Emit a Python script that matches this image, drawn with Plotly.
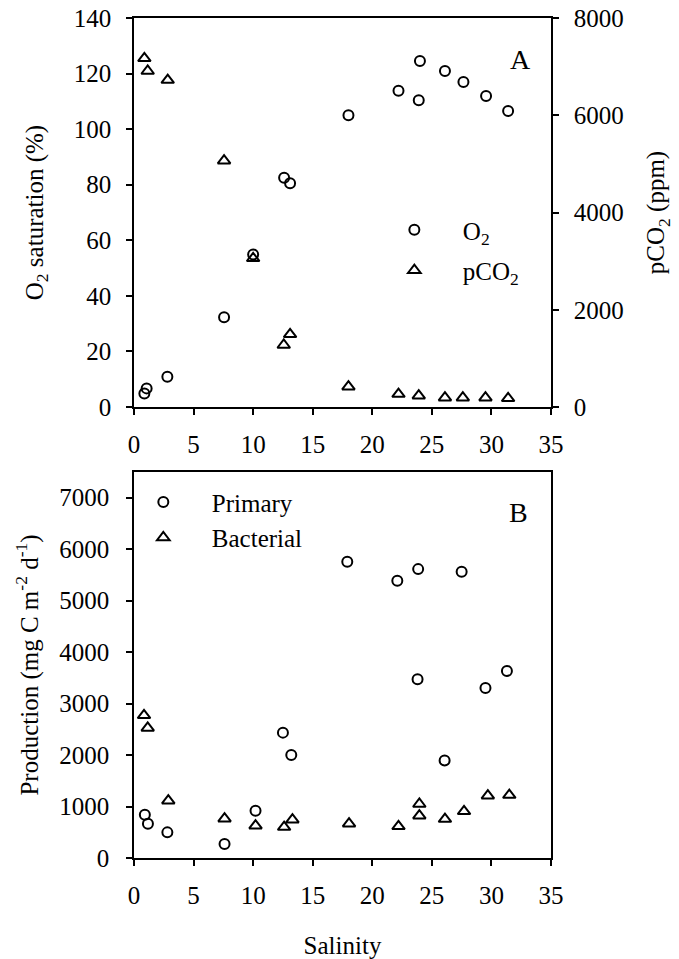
import plotly.graph_objects as go

# Panel A data
o2_sal = [0.87, 1.06, 2.8, 7.56, 10.0, 12.6, 13.1, 18.0, 22.2, 24.0, 23.9, 26.1, 27.65, 29.55, 31.4]
o2_sat = [4.9, 6.7, 10.9, 32.3, 54.9, 82.5, 80.5, 105.0, 113.8, 124.5, 110.4, 120.9, 117.0, 111.9, 106.5]

co2_sal = [0.87, 1.15, 2.83, 7.56, 10.0, 12.57, 13.1, 18.0, 22.2, 23.9, 26.1, 27.6, 29.5, 31.4]
co2_ppm = [7170, 6910, 6724, 5065, 3057, 1275, 1495, 418, 267, 233, 191, 191, 191, 179]

# Panel B data
prim_sal = [0.91, 1.17, 2.8, 7.6, 10.2, 12.5, 13.2, 17.9, 22.1, 23.85, 23.8, 26.07, 27.5, 29.5, 31.3]
prim_val = [841, 667, 498, 272, 919, 2436, 2000, 5755, 5386, 5613, 3473, 1896, 5560, 3305, 3635]

bact_sal = [0.84, 1.15, 2.88, 7.6, 10.2, 12.6, 13.3, 18.05, 22.2, 23.95, 23.95, 26.1, 27.7, 29.7, 31.5]
bact_val = [2773, 2527, 1113, 764, 628, 602, 744, 667, 615, 1049, 822, 757, 906, 1210, 1223]

FONT = "Times New Roman"
FS = 25

W, H = 679, 959
ml, mr, mt, mb = 134, 128, 18, 101

fig = go.Figure()

circ = dict(symbol="circle-open", size=10, color="black", line=dict(width=2, color="black"))
tri = dict(symbol="triangle-up-open", size=11, color="black", line=dict(width=2, color="black"))

fig.add_trace(go.Scatter(x=o2_sal, y=o2_sat, mode="markers", marker=circ,
                         name="O<sub>2</sub>", xaxis="x", yaxis="y",
                         legend="legend", legendgroup="a1"))
fig.add_trace(go.Scatter(x=co2_sal, y=co2_ppm, mode="markers", marker=tri,
                         name="pCO<sub>2</sub>", xaxis="x", yaxis="y2",
                         legend="legend", legendgroup="a2"))
fig.add_trace(go.Scatter(x=prim_sal, y=prim_val, mode="markers", marker=circ,
                         name="Primary", xaxis="x2", yaxis="y3",
                         legend="legend2", legendgroup="b1"))
fig.add_trace(go.Scatter(x=bact_sal, y=bact_val, mode="markers", marker=tri,
                         name="Bacterial", xaxis="x2", yaxis="y3",
                         legend="legend2", legendgroup="b2"))

ph = H - mt - mb
top_dom = [(858 - 407) / ph, 1.0]
bot_dom = [0.0, (858 - 472) / ph]

tickf = dict(family=FONT, size=FS, color="black")
axcommon = dict(showline=True, linecolor="black", linewidth=1.5, ticks="outside",
                ticklen=6, tickwidth=1.5, tickcolor="black", showgrid=False,
                zeroline=False, tickfont=tickf)

fig.update_layout(
    template="none",
    width=W, height=H,
    margin=dict(l=ml, r=mr, t=mt, b=mb, autoexpand=False),
    paper_bgcolor="white", plot_bgcolor="white",
    font=dict(family=FONT, size=FS, color="black"),
    showlegend=True,
    xaxis=dict(**axcommon, domain=[0, 1], range=[0, 35], dtick=5, anchor="y",
               mirror=True, ticklabelstandoff=8),
    yaxis=dict(**axcommon, domain=top_dom, range=[0, 140], dtick=20, anchor="x",
               ticklabelstandoff=10,
               title=dict(text="O<sub>2</sub> saturation (%)", standoff=23,
                          font=dict(family=FONT, size=FS, color="black"))),
    yaxis2=dict(**axcommon, overlaying="y", side="right", range=[0, 8000], dtick=2000,
                anchor="x", ticklabelstandoff=10,
                title=dict(text="pCO<sub>2</sub> (ppm)", standoff=24,
                           font=dict(family=FONT, size=FS, color="black"))),
    xaxis2=dict(**axcommon, domain=[0, 1], range=[0, 35], dtick=5, anchor="y3",
                mirror=True, ticklabelstandoff=8,
                title=dict(text="Salinity", standoff=29,
                           font=dict(family=FONT, size=FS, color="black"))),
    yaxis3=dict(**axcommon, domain=bot_dom, range=[0, 7500], dtick=1000, anchor="x2",
                mirror=True, ticklabelstandoff=12,
                title=dict(text="Production (mg C m<sup>-2</sup> d<sup>-1</sup>)", standoff=14,
                           font=dict(family=FONT, size=FS, color="black"))),
    legend=dict(x=0.556, y=0.775, xanchor="left", yanchor="top", bgcolor="rgba(0,0,0,0)",
                font=dict(family=FONT, size=FS, color="black"), itemwidth=87, tracegroupgap=5),
    legend2=dict(x=-0.046, y=0.451, xanchor="left", yanchor="top", bgcolor="rgba(0,0,0,0)",
                 font=dict(family=FONT, size=FS, color="black"), itemwidth=87, tracegroupgap=0),
    annotations=[
        dict(text="A", x=0.957, y=0.972, xref="paper", yref="paper", showarrow=False,
             xanchor="right", yanchor="top", font=dict(family=FONT, size=28, color="black")),
        dict(text="B", x=0.95, y=0.432, xref="paper", yref="paper", showarrow=False,
             xanchor="right", yanchor="top", font=dict(family=FONT, size=28, color="black")),
    ],
)

fig.write_html("out.html")
